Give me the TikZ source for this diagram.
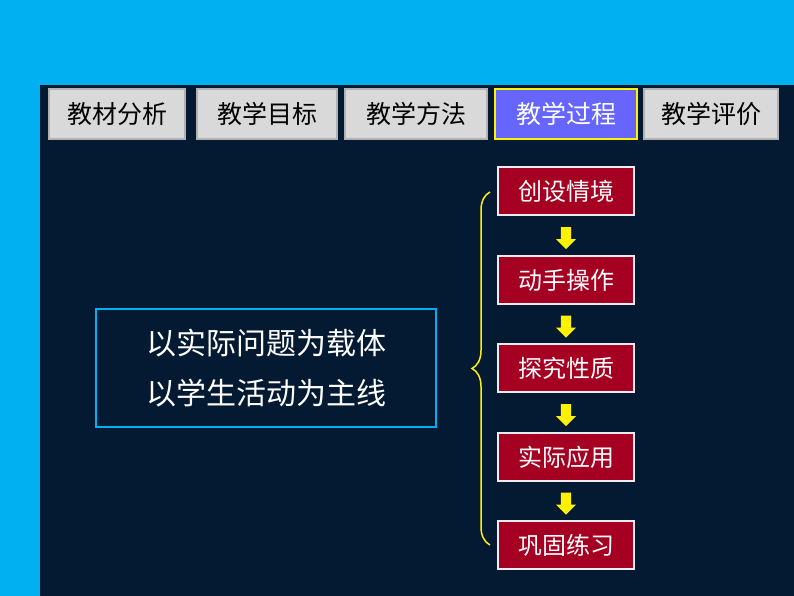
\documentclass[tikz,border=0pt]{standalone}
\usepackage{fontspec}
\setmainfont{Noto Sans CJK SC}
\usetikzlibrary{calc}
\usetikzlibrary{shapes.arrows}
\usetikzlibrary{decorations.pathreplacing}
\definecolor{skyblue}{HTML}{00B0F0}
\definecolor{navy}{HTML}{041A33}
\definecolor{tabgray}{HTML}{D9D9D9}
\definecolor{tabblue}{HTML}{6666FF}
\definecolor{boxred}{HTML}{A50021}
\begin{document}
\begin{tikzpicture}[x=1pt, y=-1pt,
tab/.style={rectangle, draw=gray!60, line width=2.5pt, fill=tabgray, minimum height=50pt, inner sep=0pt, font=\fontsize{25}{25}\selectfont, text=black},
stage/.style={rectangle, draw=white!85!gray, line width=1.5pt, fill=boxred, minimum width=136pt, minimum height=48pt, font=\fontsize{24}{24}\selectfont, text=white},
downarrow/.style={single arrow, draw=none, fill=yellow, rotate=-90, minimum width=20pt, single arrow head extend=2pt, minimum height=22pt, inner sep=2pt}
]
\useasboundingbox (0,0) rectangle (794,596);
\fill[skyblue] (0,0) rectangle (794,596);
\fill[navy] (40,85) rectangle (794,596);

% tabs
\node[tab, minimum width=136pt] (t1) at (117,114) {教材分析};
\node[tab, minimum width=140pt] (t2) at (267,114) {教学目标};
\node[tab, minimum width=142pt] (t3) at (416,114) {教学方法};
\node[tab, minimum width=142pt, fill=tabblue, draw=yellow, text=white] (t4) at (566,114) {教学过程};
\node[tab, minimum width=134pt] (t5) at (711,114) {教学评价};

% left box
\node[rectangle, draw=skyblue, line width=2pt, minimum width=340pt, minimum height=118pt, align=center, text=white, font=\fontsize{30}{50}\selectfont] (theme) at (266,368) {以实际问题为载体\\以学生活动为主线};

% stages
\node[stage] (s1) at (566,191) {创设情境};
\node[stage] (s2) at (566,280) {动手操作};
\node[stage] (s3) at (566,368) {探究性质};
\node[stage] (s4) at (566,457) {实际应用};
\node[stage] (s5) at (566,545) {巩固练习};

\foreach \a/\b in {s1/s2, s2/s3, s3/s4, s4/s5}
  \node[downarrow] (arr-\a) at ($(\a.south)!0.5!(\b.north)$) {};

% brace
\coordinate (bracelow) at (490,545);
\coordinate (bracehigh) at (490,192);
\draw[yellow, line width=1.5pt, decorate, decoration={brace, amplitude=18pt}] (bracelow) -- (bracehigh);
\end{tikzpicture}
\end{document}
